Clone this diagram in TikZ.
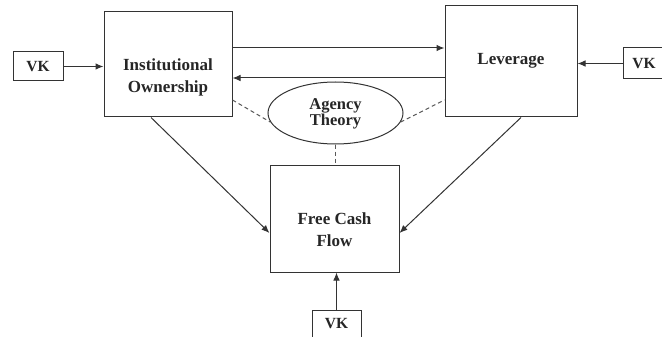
\documentclass[tikz,border=0pt]{standalone}
\usepackage{fontspec}
\setmainfont{Liberation Serif}
\usetikzlibrary{arrows.meta,shapes.geometric}
\begin{document}
\begin{tikzpicture}[x=1pt,y=-1pt,
  line width=1pt,
  box/.style={draw=black!80, rectangle, inner sep=0pt},
  lbl/.style={font=\fontsize{17}{22}\selectfont\bfseries, align=center, text=black!85, inner sep=0pt},
  vklbl/.style={font=\fontsize{15.5}{16}\selectfont\bfseries, text=black!85, inner sep=0pt},
  arr/.style={draw=black!80, -{Latex[length=8pt,width=6.5pt]}},
  dsh/.style={draw=black!65, dash pattern=on 4pt off 3pt}
]
\useasboundingbox (0,0) rectangle (662,337);
\clip (0,0) rectangle (662,337);
% boxes
\node[box, minimum width=128pt, minimum height=105pt] (io) at (168,64.5) {};
\node[lbl] (iot) at (168,77) {Institutional\\Ownership};
\node[box, minimum width=132pt, minimum height=111pt] (lev) at (511,61.5) {};
\node[lbl] (levt) at (511,61) {Leverage};
\node[box, minimum width=129pt, minimum height=107pt] (fcf) at (334.5,218.5) {};
\node[lbl] (fcft) at (334.5,230) {Free Cash\\Flow};
\node[draw=black!80, ellipse, minimum width=135pt, minimum height=62pt, inner sep=0pt] (el) at (335.5,113) {};
\node[lbl, font=\fontsize{16.5}{16}\selectfont\bfseries] (elt) at (335.5,113.5) {Agency\\Theory};
\node[box, minimum width=50pt, minimum height=29pt] (vkl) at (38,66.5) {};
\node[vklbl] (vklt) at (38,66.5) {VK};
\node[box, minimum width=42pt, minimum height=31pt] (vkr) at (644,63.5) {};
\node[vklbl] (vkrt) at (644,63.5) {VK};
\node[box, minimum width=49pt, minimum height=30pt] (vkb) at (336.5,325) {};
\node[vklbl] (vkbt) at (336.5,324) {VK};
% connectors
\draw[arr] (vkl.east) -- (vkl.east -| io.west);
\draw[arr] (vkr.west) -- (vkr.west -| lev.east);
\draw[arr] (vkb.north) -- (vkb.north |- fcf.south);
\draw[arr] ([yshift=16.5pt]io.east) -- ([yshift=16.5pt]io.east -| lev.west);
\draw[arr] ([yshift=-13.5pt]io.east -| lev.west) -- ([yshift=-13.5pt]io.east);
\draw[arr] ([xshift=-17pt]io.south) -- ([yshift=-14.5pt]fcf.west);
\draw[arr] ([xshift=10pt]lev.south) -- ([yshift=-14.5pt]fcf.east);
\draw[dsh] ([yshift=-35.5pt]io.east) -- (el.188);
\draw[dsh] (el.-8) -- ([yshift=-38.5pt]lev.west);
\draw[dsh] (el.south) -- (el.south |- fcf.north);
\end{tikzpicture}
\end{document}
